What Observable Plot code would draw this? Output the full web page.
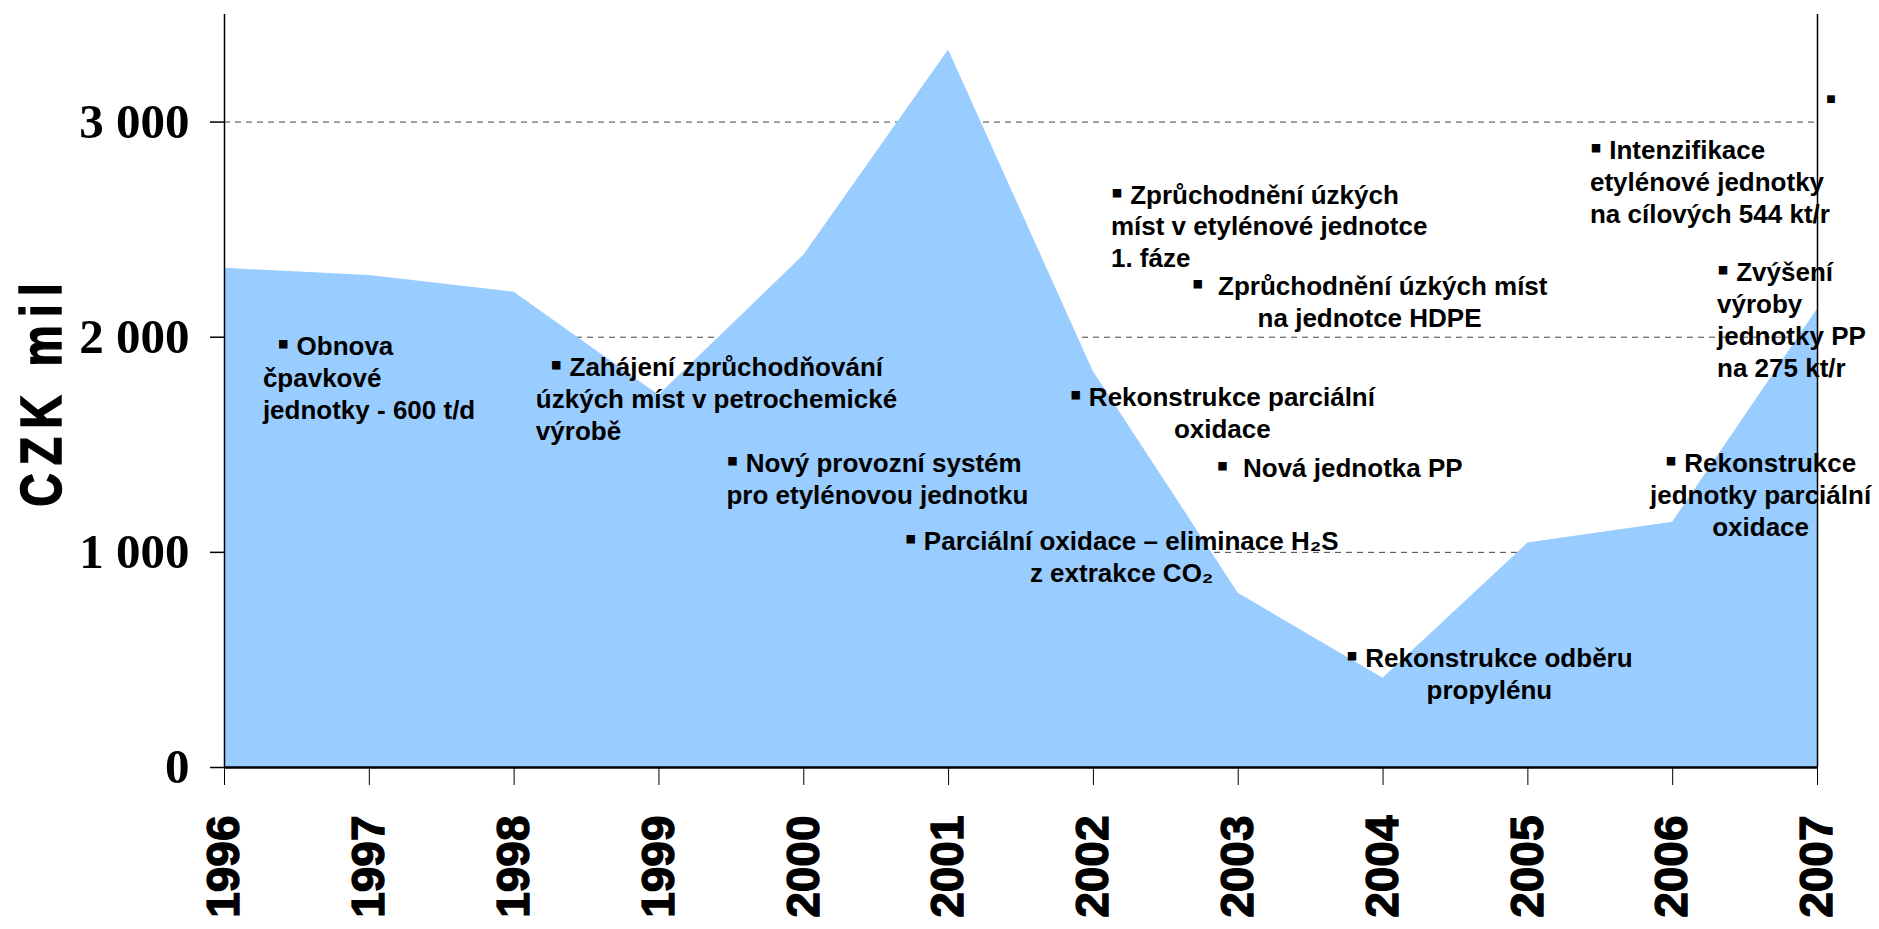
<!DOCTYPE html>
<html>
<head>
<meta charset="utf-8">
<script src="https://cdn.jsdelivr.net/npm/d3@7"></script>
<script src="https://cdn.jsdelivr.net/npm/@observablehq/plot@0.6"></script>
<style>
  html, body { margin: 0; padding: 0; background: #fff; }
  #chart svg { display: block; }
</style>
</head>
<body>
<div id="chart"></div>
<script>
// ---- data ----
const years  = [1996, 1997, 1998, 1999, 2000, 2001, 2002, 2003, 2004, 2005, 2006, 2007];
const values = [2320, 2287, 2209, 1730, 2381, 3335, 1840, 810, 415, 1043, 1140, 2130];
const yTicks = [0, 1000, 2000, 3000];
const xTicks = years;

// annotations (anchor position in data coordinates: year, CZK mil)
const noteTexts = [
  "\u00A0\u00A0▪ Obnova\nčpavkové\njednotky - 600 t/d",
  "\u00A0\u00A0▪ Zahájení zprůchodňování\núzkých míst v petrochemické\nvýrobě",
  "▪ Nový provozní systém\npro etylénovou jednotku",
  "▪ Parciální oxidace – eliminace H₂S\nz extrakce CO₂",
  "▪ Zprůchodnění úzkých\nmíst v etylénové jednotce\n1. fáze",
  "▪\u00A0 Zprůchodnění úzkých míst\nna jednotce HDPE",
  "▪ Rekonstrukce parciální\noxidace",
  "▪\u00A0 Nová jednotka PP",
  "▪ Rekonstrukce odběru\npropylénu",
  "▪ Intenzifikace\netylénové jednotky\nna cílových 544 kt/r",
  "▪ Zvýšení\nvýroby\njednotky PP\nna 275 kt/r",
  "▪ Rekonstrukce\njednotky parciální\noxidace"
];
const noteYears  = [1996.265, 1998.150, 1999.466, 2002.195, 2002.121, 2003.907, 2002.890, 2003.700, 2004.734, 2005.429, 2006.306, 2006.607];
const noteValues = [2024, 1923, 1478, 1115, 2727, 2303, 1784, 1455, 574, 2933, 2365, 1478];
const noteAligns = ["start", "start", "start", "middle", "start", "middle", "middle", "middle", "middle", "start", "start", "middle"];
const strayMark = [{year: 2007.092, value: 3095}];

const series = years.map((y, i) => ({year: y, value: values[i]}));
const notes = noteTexts.map((t, i) => ({text: t, year: noteYears[i], value: noteValues[i], align: noteAligns[i]}));

const sans = "'Liberation Sans', Arial, Helvetica, sans-serif";
const serif = "'Liberation Serif', 'Times New Roman', serif";
const fmt = d => d === 0 ? "0" : d3.format(",")(d).replace(/,/g, " ");

const noteStyle = {x: "year", y: "value", text: "text", lineAnchor: "top", lineHeight: 1.23,
  fontSize: 26, fontWeight: "bold", fontFamily: sans, fill: "#000"};

const chart = Plot.plot({
  width: 1879,
  height: 929,
  marginLeft: 224,
  marginRight: 62,
  marginTop: 14,
  marginBottom: 162,
  style: {background: "#fff", color: "#000", fontFamily: sans, overflow: "visible"},
  x: {domain: [1996, 2007]},
  y: {domain: [0, 3500]},
  marks: [
    Plot.ruleY(yTicks.filter(d => d > 0), {stroke: "#444", strokeWidth: 1, strokeDasharray: "6,5"}),
    Plot.areaY(series, {x: "year", y: "value", fill: "#99ccff", curve: "linear"}),
    Plot.ruleX([1996], {stroke: "#000", strokeWidth: 1.5}),
    Plot.ruleX([2007], {stroke: "#000", strokeWidth: 1.5}),
    Plot.ruleY([0], {stroke: "#000", strokeWidth: 2.5}),
    Plot.axisY({
      ticks: yTicks, tickSize: 14, tickPadding: 21, tickFormat: fmt,
      fontSize: 49, fontFamily: serif, fontWeight: "bold", strokeWidth: 1.5, label: null
    }),
    Plot.axisX({
      ticks: xTicks, tickSize: 18, tickPadding: 30, tickRotate: -90, tickFormat: d => String(d),
      fontSize: 46, fontFamily: sans, fontWeight: "bold", strokeWidth: 1, label: null
    }),
    Plot.text(["CZK mil"], {
      frameAnchor: "left", dx: -182, rotate: -90, textAnchor: "middle", lineAnchor: "middle",
      fontSize: 58, fontWeight: "bold", fontFamily: sans
    }),
    Plot.text(notes.filter(d => d.align === "start"), {...noteStyle, textAnchor: "start"}),
    Plot.text(notes.filter(d => d.align === "middle"), {...noteStyle, textAnchor: "middle"}),
    Plot.text(strayMark, {x: "year", y: "value", text: () => "▪", fontSize: 24, fontFamily: sans, fill: "#000"})
  ]
});

document.getElementById("chart").appendChild(chart);
// condensed, heavy, letter-spaced y-axis title
chart.querySelectorAll("text").forEach(t => {
  if (t.textContent === "CZK mil") {
    t.setAttribute("letter-spacing", "10");
    t.setAttribute("stroke", "#000");
    t.setAttribute("stroke-width", "1.5");
    const tr = t.getAttribute("transform") || "";
    t.setAttribute("transform", tr + " scale(0.8,1)");
  }
});
// heavier year labels
chart.querySelectorAll('g[aria-label="x-axis tick label"] text').forEach(t => {
  t.setAttribute("stroke", "#000");
  t.setAttribute("stroke-width", "1.3");
});
// larger bullet squares
const walker = document.createTreeWalker(chart, NodeFilter.SHOW_TEXT);
const bulletNodes = [];
while (walker.nextNode()) if (walker.currentNode.nodeValue.includes("▪")) bulletNodes.push(walker.currentNode);
bulletNodes.forEach(node => {
  const parts = node.nodeValue.split("▪");
  const frag = document.createDocumentFragment();
  parts.forEach((p, i) => {
    if (i > 0) {
      const ts = document.createElementNS("http://www.w3.org/2000/svg", "tspan");
      ts.setAttribute("font-size", "1.3em");
      ts.textContent = "▪";
      frag.appendChild(ts);
    }
    if (p) frag.appendChild(document.createTextNode(p));
  });
  node.parentNode.replaceChild(frag, node);
});
</script>
</body>
</html>
